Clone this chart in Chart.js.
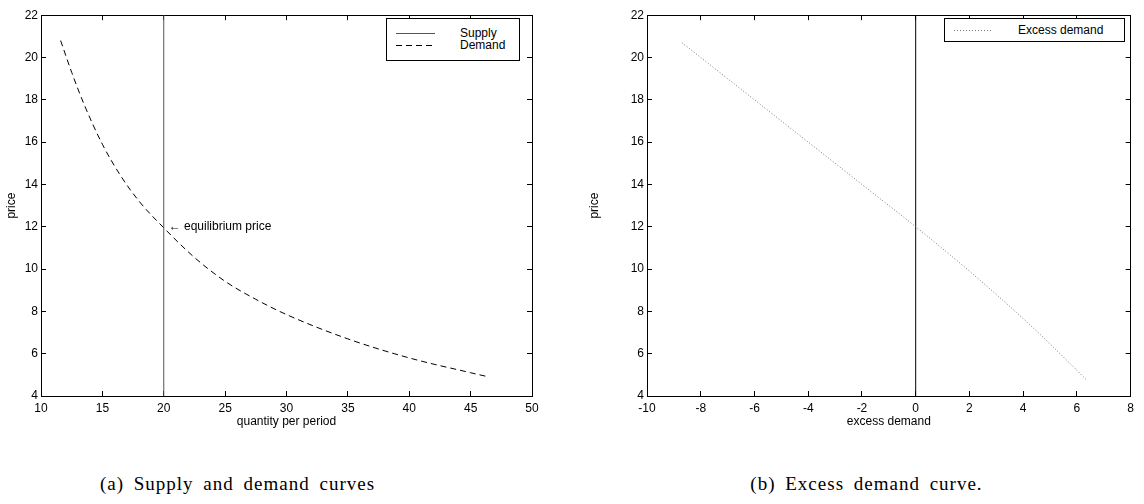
<!DOCTYPE html>
<html>
<head>
<meta charset="utf-8">
<script src="https://cdn.jsdelivr.net/npm/chart.js@4/dist/chart.umd.min.js"></script>
<style>
  body { margin: 0; background: #fff; width: 1144px; height: 504px; position: relative; overflow: hidden;
         font-family: "Liberation Sans", Arial, sans-serif; }
  canvas { position: absolute; top: 0; }
  #supplyChart { left: 0; }
  #excessChart { left: 572px; }
  .legend { position: absolute; box-sizing: border-box; border: 1px solid #000; background: #fff; font-size: 12px; }
  .legend .row { position: absolute; height: 12px; line-height: 12px; white-space: nowrap; }
  .legend svg { position: absolute; top: 0; }
  .legend span { position: absolute; top: 0; }
  .caption { position: absolute; font-family: "Liberation Serif", serif; font-size: 19px; letter-spacing: 1px;
             word-spacing: 4px; text-align: center; white-space: nowrap; color: #000; }
</style>
</head>
<body>
<canvas id="supplyChart" width="572" height="440"></canvas>
<canvas id="excessChart" width="572" height="440"></canvas>

<div class="legend" style="left:386px; top:18px; width:134px; height:43px;">
  <div class="row" style="left:0; top:8px; width:130px;">
    <svg width="40" height="12" style="left:9px;"><line x1="0" y1="6.5" x2="39" y2="6.5" stroke="#555" stroke-width="1"/></svg>
    <span style="left:73px;">Supply</span>
  </div>
  <div class="row" style="left:0; top:20px; width:130px;">
    <svg width="40" height="12" style="left:9px;"><line x1="0" y1="6.5" x2="39" y2="6.5" stroke="#000" stroke-width="1" stroke-dasharray="6 4"/></svg>
    <span style="left:73px;">Demand</span>
  </div>
</div>

<div class="legend" style="left:944px; top:18px; width:181px; height:24px;">
  <div class="row" style="left:0; top:5px; width:178px;">
    <svg width="40" height="12" style="left:9px;"><line x1="0" y1="6.5" x2="38" y2="6.5" stroke="#777" stroke-width="1" stroke-dasharray="1 2"/></svg>
    <span style="left:73px;">Excess demand</span>
  </div>
</div>

<div class="caption" style="left:0; width:475px; top:473px;">(a) Supply and demand curves</div>
<div class="caption" style="left:600px; width:533px; top:473px;">(b) Excess demand curve.</div>

<script>
// demand curve
const demandQty   = [11.6, 12.5, 13.5, 15.0, 16.5, 18.0, 20.0, 22.5, 25.0, 27.5, 30.0, 35.0, 40.0, 45.0, 46.5];
const demandPrice = [20.8, 19.3, 17.8, 15.9, 14.4, 13.2, 11.95, 10.55, 9.42, 8.57, 7.85, 6.7, 5.8, 5.1, 4.9];

// supply is vertical at q = 20
const supplyQty   = [20, 20];
const supplyPrice = [4, 22];

// excess demand curve
const excessQty   = [-8.7, -6, -4, -2, 0, 2, 4, 5, 6.35];
const excessPrice = [20.7, 18.0, 16.0, 14.0, 12.0, 9.9, 7.66, 6.46, 4.77];

// zero line on the excess demand plot
const zeroQty   = [0, 0];
const zeroPrice = [4, 22];

// "equilibrium price" label anchor
const eqLabelQty = 20.4;
const eqLabelPrice = 12;

const toPoints = (xs, ys) => xs.map((x, i) => ({ x: x, y: ys[i] }));

const tickFont = { family: "'Liberation Sans', Arial, sans-serif", size: 12 };

// matlab-like box with inward tick marks on all four sides
function buildScales(xMin, xMax, xStep, xTitle, yLeftWidth) {
    const grid = { drawOnChartArea: false, drawTicks: true, tickLength: -5, color: '#000', lineWidth: 1 };
    const border = { display: true, color: '#000', width: 1 };
    return {
        x: {
            type: 'linear', position: 'bottom', min: xMin, max: xMax,
            ticks: { stepSize: xStep, color: '#000', font: tickFont, padding: 10, maxRotation: 0, autoSkip: false },
            grid: grid, border: border,
            title: { display: true, text: xTitle, color: '#000', font: tickFont, padding: { top: 0, bottom: 2 } },
            afterFit: s => { s.height = 35; }
        },
        y: {
            type: 'linear', position: 'left', min: 4, max: 22,
            ticks: { stepSize: 2, color: '#000', font: tickFont, padding: 8 },
            grid: grid, border: border,
            title: { display: true, text: 'price', color: '#000', font: tickFont, padding: { top: 4, bottom: 4 } },
            afterFit: s => { s.width = yLeftWidth; }
        },
        xTop: {
            type: 'linear', position: 'top', min: xMin, max: xMax,
            ticks: { stepSize: xStep, display: false },
            grid: grid, border: border,
            afterFit: s => { s.height = 0; }
        },
        yRight: {
            type: 'linear', position: 'right', min: 4, max: 22,
            ticks: { stepSize: 2, display: false },
            grid: grid, border: border,
            afterFit: s => { s.width = 0; }
        }
    };
}

const eqLabel = {
    id: 'eqLabel',
    afterDatasetsDraw(chart) {
        const ctx = chart.ctx;
        const px = chart.scales.x.getPixelForValue(eqLabelQty);
        const py = chart.scales.y.getPixelForValue(eqLabelPrice);
        ctx.save();
        ctx.font = "12px 'Liberation Sans', Arial, sans-serif";
        ctx.fillStyle = '#000';
        ctx.textAlign = 'left';
        ctx.textBaseline = 'middle';
        ctx.fillText('\u2190 equilibrium price', px, py);
        ctx.restore();
    }
};

Chart.defaults.animation = false;

// (a) supply and demand
new Chart("supplyChart", {
    type: "scatter",
    data: {
        datasets: [
            {
                label: 'Supply',
                data: toPoints(supplyQty, supplyPrice),
                showLine: true, borderColor: '#555', borderWidth: 1, pointRadius: 0
            },
            {
                label: 'Demand',
                data: toPoints(demandQty, demandPrice),
                showLine: true, borderColor: '#000', borderWidth: 1, borderDash: [6, 4],
                pointRadius: 0, cubicInterpolationMode: 'monotone'
            }
        ]
    },
    options: {
        responsive: false,
        layout: { padding: { left: 0, top: 9, right: 40, bottom: 9 } },
        scales: buildScales(10, 50, 5, 'quantity per period', 41),
        plugins: { legend: { display: false }, tooltip: { enabled: false } }
    },
    plugins: [eqLabel]
});

// (b) excess demand
new Chart("excessChart", {
    type: "scatter",
    data: {
        datasets: [
            {
                label: 'Excess demand',
                data: toPoints(excessQty, excessPrice),
                showLine: true, borderColor: '#777', borderWidth: 1, borderDash: [1, 2],
                pointRadius: 0, cubicInterpolationMode: 'monotone'
            },
            {
                label: 'zero',
                data: toPoints(zeroQty, zeroPrice),
                showLine: true, borderColor: '#000', borderWidth: 1, pointRadius: 0
            }
        ]
    },
    options: {
        responsive: false,
        layout: { padding: { left: 11, top: 9, right: 6, bottom: 9 } },
        scales: buildScales(-10, 8, 2, 'excess demand', 64),
        plugins: { legend: { display: false }, tooltip: { enabled: false } }
    }
});
</script>
</body>
</html>
